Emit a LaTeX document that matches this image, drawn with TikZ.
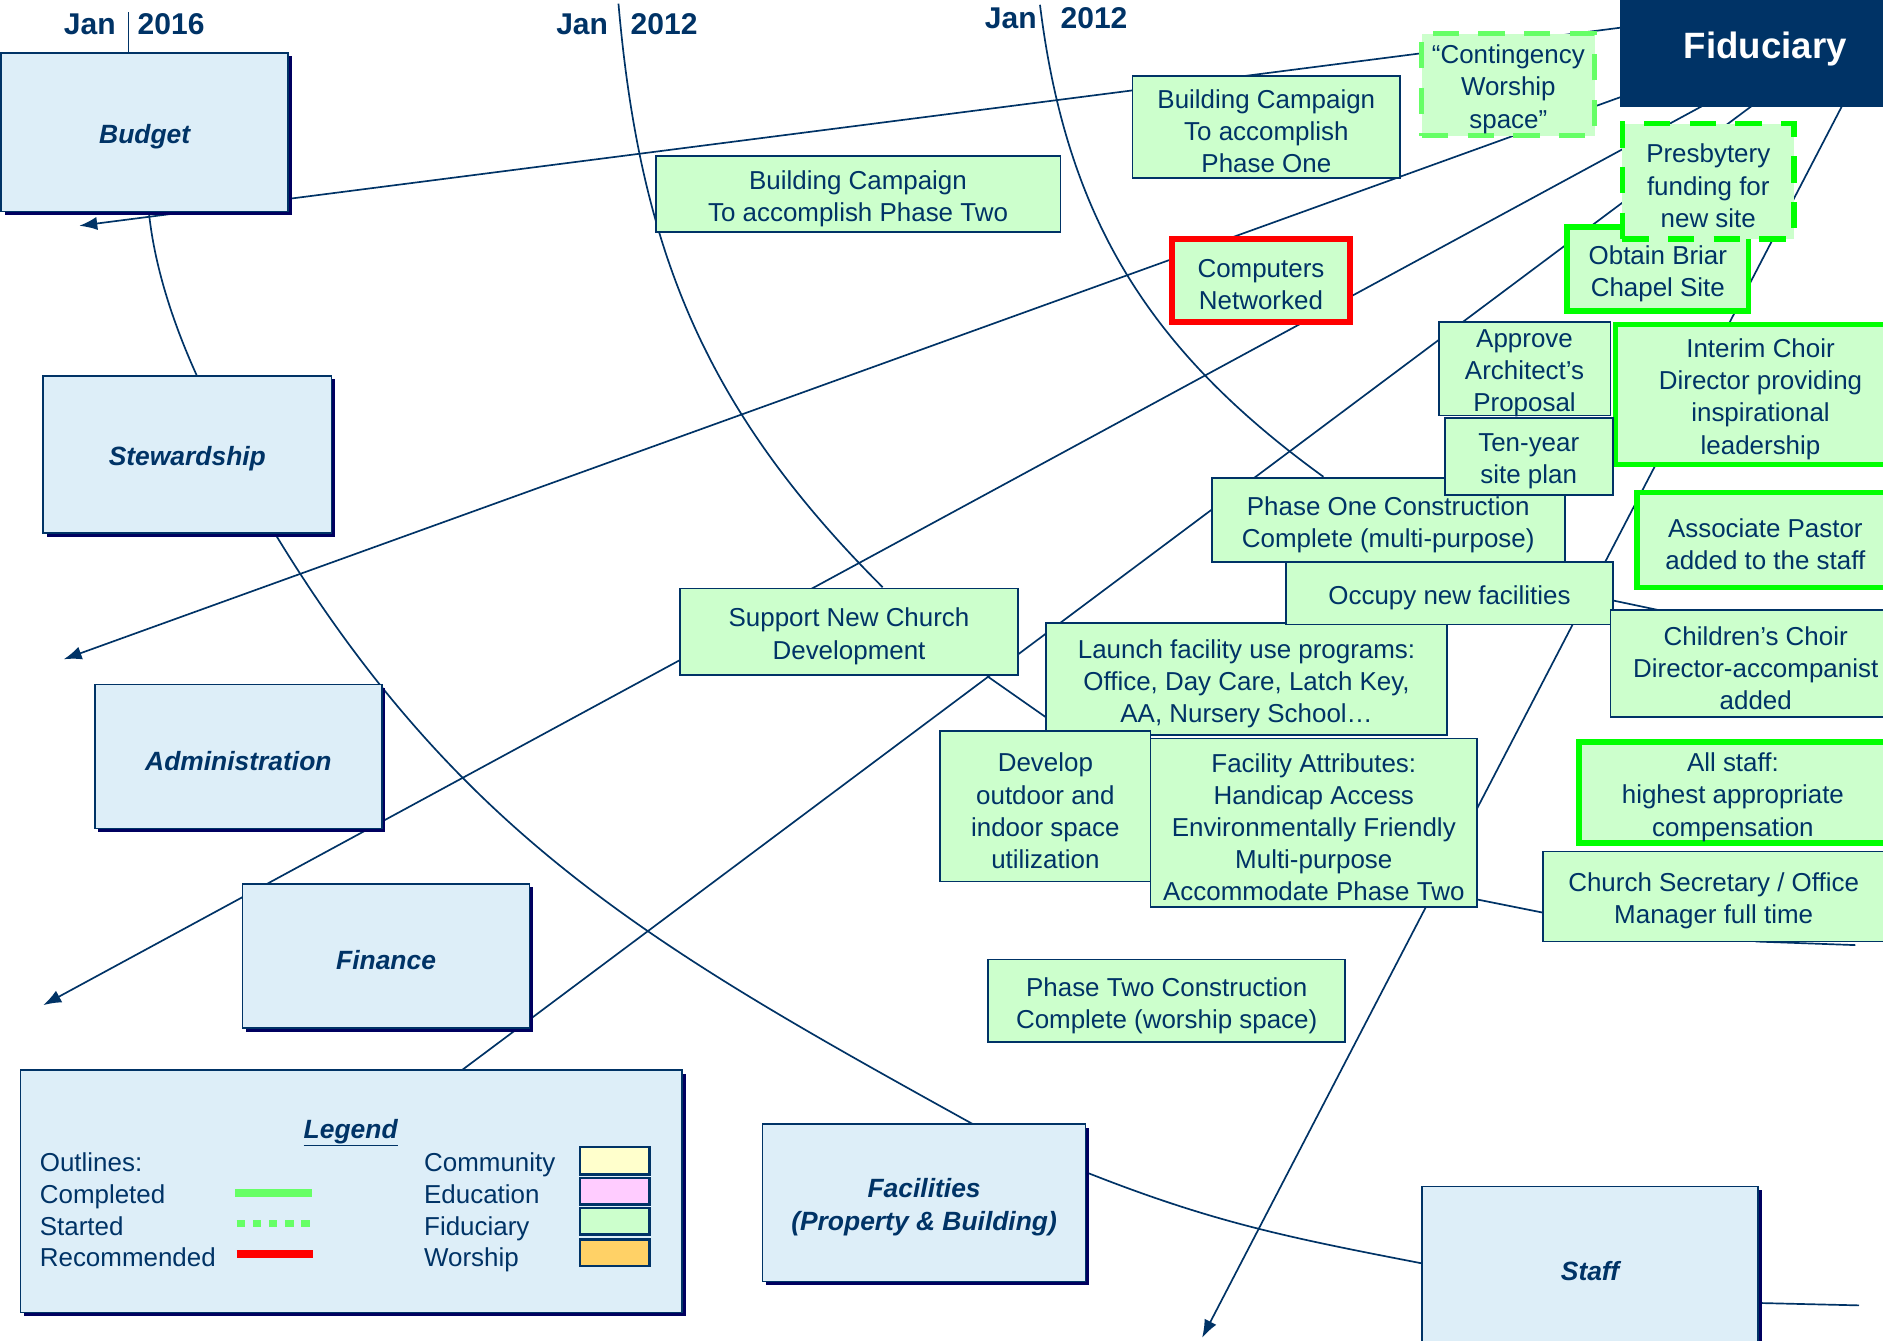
\documentclass[tikz,border=0pt]{standalone}
\usepackage{fontspec}
\setmainfont{Liberation Sans}
\usetikzlibrary{arrows.meta,shadows}
\definecolor{navy}{RGB}{0,51,102}
\definecolor{catfill}{RGB}{221,238,248}
\definecolor{shadowc}{RGB}{0,0,96}
\definecolor{gfill}{RGB}{204,255,204}
\definecolor{doneg}{RGB}{0,255,0}
\definecolor{lightg}{RGB}{102,255,102}
\definecolor{recred}{RGB}{255,0,0}
\definecolor{commc}{RGB}{255,255,204}
\definecolor{educ}{RGB}{255,204,255}
\definecolor{worc}{RGB}{255,209,102}
% #1 box style, #2 name, #3..#6 x1 y1 x2 y2, #7 text style, #8 text
\newcommand\mkbox[8]{%
  \node[#1,minimum width={(#5)-(#3)},minimum height={(#6)-(#4)}] (#2) at ({((#3)+(#5))/2},{((#4)+(#6))/2}) {};
  \node[#7] (#2t) at ({((#3)+(#5))/2},{((#4)+(#6))/2+3.8}) {#8};}
\tikzset{
  conn/.style={draw=navy, line width=1.4pt},
  arr/.style={conn, -{Latex[length=15pt,width=11pt]}},
  gb/.style={rectangle, fill=gfill, draw=navy, line width=1.5pt, inner sep=0pt},
  gbt/.style={inner sep=0pt, align=center, text=navy, font=\fontsize{21.6}{26.8}\selectfont},
  donebox/.style={gb, draw=doneg, line width=4.5pt},
  startbox/.style={gb, draw=doneg, line width=4.5pt, dash pattern=on 22pt off 16pt},
  startlbox/.style={gb, draw=lightg, line width=4pt, dash pattern=on 22pt off 16pt},
  recbox/.style={gb, draw=recred, line width=5.5pt},
  catbox/.style={rectangle, fill=catfill, draw=navy, line width=1.3pt, inner sep=0pt, drop shadow={shadow xshift=3pt, shadow yshift=-3pt, fill=shadowc, opacity=1}},
  catt/.style={inner sep=0pt, align=center, text=navy, font=\fontsize{22}{27.5}\selectfont\bfseries\itshape},
  lbl/.style={text=navy, inner sep=0pt, anchor=base west, font=\fontsize{21.6}{26.6}\selectfont},
  datel/.style={text=navy, inner sep=0pt, anchor=base west, font=\fontsize{25}{30}\selectfont\bfseries},
  swatch/.style={draw=navy, line width=2pt},
}
\begin{document}
\begin{tikzpicture}[x=1pt,y=-1pt]
\useasboundingbox (0,0) rectangle (1568,1116);
\fill[white] (0,0) rectangle (1568,1116);
\clip (0,0) rectangle (1568,1116);

% ---------- named end points ----------
\coordinate (f1) at (1356,22.2);  \coordinate (t1) at (66,188);
\coordinate (f2) at (1356,78.5);  \coordinate (t2) at (53,549);
\coordinate (f3) at (1418,88);    \coordinate (t3) at (36,837);
\coordinate (f4) at (1459,88);    \coordinate (t4) at (346,920);
\coordinate (f5) at (1534,88);    \coordinate (t5) at (1001,1114);
\coordinate (budS) at (124,177);  \coordinate (stwN) at (164,313);
\coordinate (stwS) at (230,446);  \coordinate (facN) at (810,936);
\coordinate (facE) at (904,976);  \coordinate (stfW) at (1184,1052);
\coordinate (stfE) at (1464,1085);\coordinate (stfX) at (1548,1087);
\coordinate (a1s) at (515,3);     \coordinate (a1e) at (735,489);
\coordinate (a2s) at (866,4);     \coordinate (a2e) at (1102,397);
\coordinate (d1s) at (107,10);    \coordinate (d1e) at (107,44);
\coordinate (s1a) at (822,563);   \coordinate (s1b) at (872,598);
\coordinate (s2a) at (1343,500);  \coordinate (s2b) at (1381,508);
\coordinate (s3a) at (1230,749);  \coordinate (s3b) at (1285,760);
\coordinate (s4a) at (1462,784);  \coordinate (s4b) at (1545,787);

% ---------- connectors ----------
\draw[arr] (f1) -- (t1);
\draw[arr] (f2) -- (t2);
\draw[arr] (f3) -- (t3);
\draw[conn] (f4) -- (t4);
\draw[arr] (f5) -- (t5);
\draw[conn] (budS) .. controls (128,215) and (140,260) .. (stwN);
\draw[conn] (stwS) .. controls (385,700) and (550,792) .. (facN);
\draw[conn] (facE) .. controls (1010,1018) and (1073,1030.5) .. (stfW);
\draw[conn] (stfE) -- (stfX);
\draw[conn] (a1s) .. controls (533,210) and (588,342) .. (a1e);
\draw[conn] (a2s) .. controls (888,182) and (957,292) .. (a2e);
\draw[conn] (d1s) -- (d1e);
\draw[conn] (s1a) -- (s1b);
\draw[conn] (s2a) -- (s2b);
\draw[conn] (s3a) -- (s3b);
\draw[conn] (s4a) -- (s4b);

% ---------- date labels ----------
\node[datel] (jan1) at (53,29) {Jan};
\node[datel] (yr1) at (114.5,29) {2016};
\node[datel] (jan2) at (463,29) {Jan};
\node[datel] (yr2) at (525,29) {2012};
\node[datel] (jan3) at (820,23.6) {Jan};
\node[datel] (yr3) at (883,23.6) {2012};

% ---------- category boxes ----------
\mkbox{catbox}{budget}{1}{44}{240}{176}{catt}{Budget}
\mkbox{catbox}{stew}{36}{313}{276}{444}{catt}{Stewardship}
\mkbox{catbox}{admin}{79}{570}{318}{690}{catt}{Administration}
\mkbox{catbox}{finance}{202}{736}{441}{856}{catt}{Finance}
\mkbox{catbox}{facil}{635}{936}{904}{1067}{catt}{Facilities\\(Property \& Building)}
\mkbox{catbox}{staff}{1184}{988}{1464}{1122}{catt}{Staff}
\mkbox{catbox}{legend}{17}{891}{568}{1093}{catt}{}

% ---------- Fiduciary ----------
\node[rectangle, fill=navy, draw=navy, inner sep=0pt, minimum width=242pt, minimum height=95pt, text=white, font=\fontsize{30.5}{34}\selectfont\bfseries] (fid) at (1470,41) {Fiduciary};

% ---------- goal boxes ----------
\mkbox{gb}{bc1}{943}{63}{1166}{148}{gbt}{Building Campaign\\To accomplish\\Phase One}
\mkbox{gb}{bc2}{546}{130}{883}{193}{gbt}{Building Campaign\\To accomplish Phase Two}
\mkbox{startlbox}{cont}{1184}{28}{1328}{113}{gbt}{“Contingency\\Worship\\space”}
\mkbox{recbox}{comp}{976}{199}{1124}{268}{gbt}{Computers\\Networked}
\mkbox{donebox}{obt}{1305}{189}{1456}{259}{gbt}{Obtain Briar\\Chapel Site}
\mkbox{startbox}{pres}{1351}{103}{1494}{199}{gbt}{Presbytery\\funding for\\new site}
\mkbox{gb}{appr}{1198}{268}{1341}{346}{gbt}{Approve\\Architect’s\\Proposal}
\mkbox{donebox}{inter}{1345}{270}{1587}{387}{gbt}{Interim Choir\\Director providing\\inspirational\\leadership}
\mkbox{gb}{ph1}{1009}{398}{1303}{468}{gbt}{Phase One Construction\\Complete (multi-purpose)}
\mkbox{gb}{ten}{1203}{348}{1343}{412}{gbt}{Ten-year\\site plan}
\mkbox{donebox}{assoc}{1363}{410}{1577}{489}{gbt}{Associate Pastor\\added to the staff}
\mkbox{gb}{launch}{871}{519}{1205}{612}{gbt}{Launch facility use programs:\\Office, Day Care, Latch Key,\\AA, Nursery School…}
\mkbox{gb}{occ}{1071}{468}{1343}{520}{gbt}{Occupy new facilities}
\mkbox{gb}{child}{1341}{508}{1583}{597}{gbt}{Children’s Choir\\Director-accompanist\\added}
\mkbox{gb}{supp}{566}{490}{848}{562}{gbt}{Support New Church\\Development}
\mkbox{gb}{dev}{783}{609}{958}{734}{gbt}{Develop\\outdoor and\\indoor space\\utilization}
\mkbox{gb}{attr}{958}{615}{1230}{755}{gbt}{Facility Attributes:\\Handicap Access\\Environmentally Friendly\\Multi-purpose\\Accommodate Phase Two}
\mkbox{donebox}{allst}{1315}{618}{1571}{702}{gbt}{All staff:\\highest appropriate\\compensation}
\mkbox{gb}{sec}{1285}{709}{1569}{784}{gbt}{Church Secretary / Office\\Manager full time}
\mkbox{gb}{ph2}{823}{799}{1120}{868}{gbt}{Phase Two Construction\\Complete (worship space)}

% ---------- legend content ----------
\node[text=navy, inner sep=0pt, anchor=base, font=\fontsize{22}{26}\selectfont\bfseries\itshape] (legt) at (292,948) {\underline{Legend}};
\node[lbl] (lo) at (33,975.5) {Outlines:};
\node[lbl] (lc) at (33,1002) {Completed};
\node[lbl] (ls) at (33,1028.5) {Started};
\node[lbl] (lr) at (33,1055) {Recommended};
\node[lbl] (rc) at (353,975.5) {Community};
\node[lbl] (re) at (353,1002) {Education};
\node[lbl] (rf) at (353,1028.5) {Fiduciary};
\node[lbl] (rw) at (353,1055) {Worship};
\coordinate (lcA) at (196,993.5); \coordinate (lcB) at (260,993.5);
\coordinate (lsA) at (197,1018.5); \coordinate (lsB) at (258,1018.5);
\coordinate (lrA) at (197,1044); \coordinate (lrB) at (261,1044);
\draw[lightg, line width=6.5pt] (lcA) -- (lcB);
\draw[lightg, line width=6pt, dash pattern=on 7pt off 6.5pt] (lsA) -- (lsB);
\draw[recred, line width=6.5pt] (lrA) -- (lrB);
\draw[swatch, fill=commc] (483,955) rectangle (541,978);
\draw[swatch, fill=educ] (483,981) rectangle (541,1003);
\draw[swatch, fill=gfill] (483,1006) rectangle (541,1028);
\draw[swatch, fill=worc] (483,1032) rectangle (541,1054);
\end{tikzpicture}
\end{document}
